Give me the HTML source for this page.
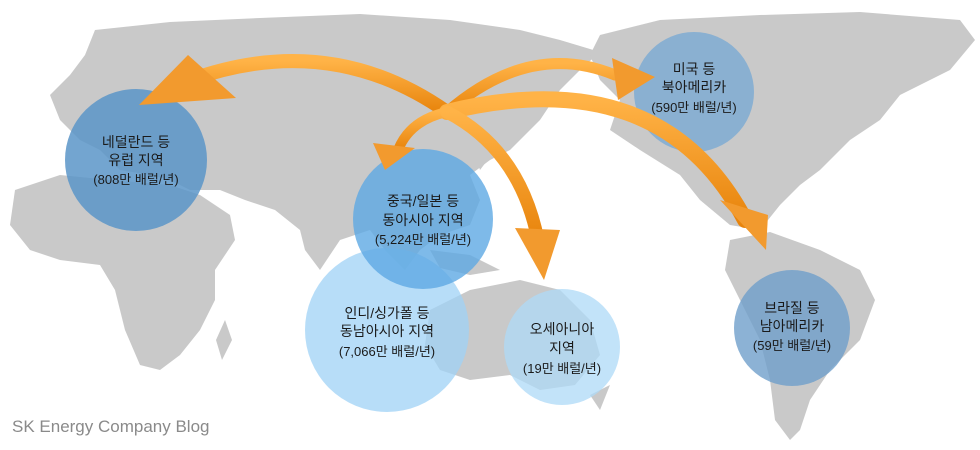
<!DOCTYPE html>
<html><head><meta charset="utf-8"><style>
html,body{margin:0;padding:0;background:#fff;width:980px;height:450px;overflow:hidden}
svg{display:block}
text{font-family:"Liberation Sans","Noto Sans CJK KR",sans-serif;fill:#1a1a1a;text-anchor:middle}
</style></head><body>
<svg width="980" height="450" viewBox="0 0 980 450" xmlns="http://www.w3.org/2000/svg">
<defs>
<linearGradient id="og" x1="0" y1="0" x2="0" y2="1"><stop offset="0" stop-color="#ffb347"/><stop offset="1" stop-color="#e8840c"/></linearGradient>
</defs>
<g fill="#c9c9c9">
<path d="M95,30 L170,22 L260,18 L360,14 L450,20 L520,30 L560,40 L600,52 L580,70 L560,90 L540,120 L510,150 L490,160 L470,175 L480,200 L470,225 L440,235 L420,250 L405,270 L385,250 L370,230 L340,240 L320,270 L305,250 L300,230 L275,210 L245,200 L220,190 L190,190 L170,180 L150,175 L120,170 L100,150 L80,140 L60,120 L50,95 L70,75 L85,55 Z"/>
<path d="M15,190 L60,175 L110,180 L170,185 L200,195 L230,215 L235,240 L215,270 L215,300 L200,330 L180,355 L160,370 L140,365 L125,330 L115,290 L100,265 L60,260 L30,250 L10,225 Z"/>
<path d="M225,320 L232,340 L222,360 L216,340 Z"/>
<path d="M470,140 L490,130 L495,150 L480,170 Z"/>
<path d="M430,250 L470,255 L500,270 L470,275 L440,268 Z"/>
<path d="M430,310 L470,290 L520,280 L560,290 L590,320 L600,355 L575,385 L540,390 L510,375 L470,380 L440,370 L425,345 Z"/>
<path d="M590,395 L610,385 L600,410 Z"/>
<path d="M600,35 L660,20 L760,15 L860,12 L960,20 L975,40 L950,70 L900,95 L880,120 L850,140 L820,170 L800,185 L780,205 L760,230 L730,225 L700,200 L680,175 L640,150 L610,130 L620,100 L600,80 L590,55 Z"/>
<path d="M730,240 L770,232 L820,250 L860,270 L875,300 L860,340 L830,370 L810,400 L800,430 L790,440 L775,420 L770,380 L760,340 L740,300 L725,270 Z"/>
</g>
<circle cx="387" cy="330" r="82" fill="#9fd1f5" opacity="0.75"/>
<circle cx="562" cy="347" r="58" fill="#aed9f7" opacity="0.75"/>
<circle cx="423" cy="219" r="70" fill="#5ea9e3" opacity="0.8"/>
<circle cx="136" cy="160" r="71" fill="#5b95c8" opacity="0.85"/>
<circle cx="694" cy="92" r="60" fill="#7aaad3" opacity="0.8"/>
<circle cx="792" cy="328" r="58" fill="#6f9fca" opacity="0.8"/>
<g fill="none" stroke="url(#og)" stroke-linecap="round">
<path d="M447,112 Q330,30 190,80" stroke-width="14"/>
<path d="M447,112 Q530,40 615,75" stroke-width="11"/>
<path d="M447,112 Q660,60 745,220" stroke-width="16"/>
<path d="M447,112 Q410,120 398,150" stroke-width="10"/>
<path d="M447,112 Q520,150 538,240" stroke-width="13"/>
</g>
<g fill="#f29a2e">
<polygon points="139,105 188,55 236,98"/>
<polygon points="655,77 612,58 618,100"/>
<polygon points="766,250 720,200 768,215"/>
<polygon points="385,170 373,143 415,148"/>
<polygon points="544,280 515,228 560,230"/>
</g>
<g font-size="14">
<text x="136" y="147">네덜란드 등</text><text x="136" y="165">유럽 지역</text><text x="136" y="184" font-size="13">(808만 배럴/년)</text>
<text x="694" y="74">미국 등</text><text x="694" y="92">북아메리카</text><text x="694" y="112" font-size="13">(590만 배럴/년)</text>
<text x="423" y="206">중국/일본 등</text><text x="423" y="225">동아시아 지역</text><text x="423" y="244" font-size="13">(5,224만 배럴/년)</text>
<text x="387" y="318">인디/싱가폴 등</text><text x="387" y="336">동남아시아 지역</text><text x="387" y="356" font-size="13">(7,066만 배럴/년)</text>
<text x="562" y="334">오세아니아</text><text x="562" y="353">지역</text><text x="562" y="373" font-size="13">(19만 배럴/년)</text>
<text x="792" y="313">브라질 등</text><text x="792" y="331">남아메리카</text><text x="792" y="350" font-size="13">(59만 배럴/년)</text>
</g>
<text x="12" y="432" font-size="17" style="text-anchor:start;fill:#8a8a8a">SK Energy Company Blog</text>
</svg>
</body></html>
